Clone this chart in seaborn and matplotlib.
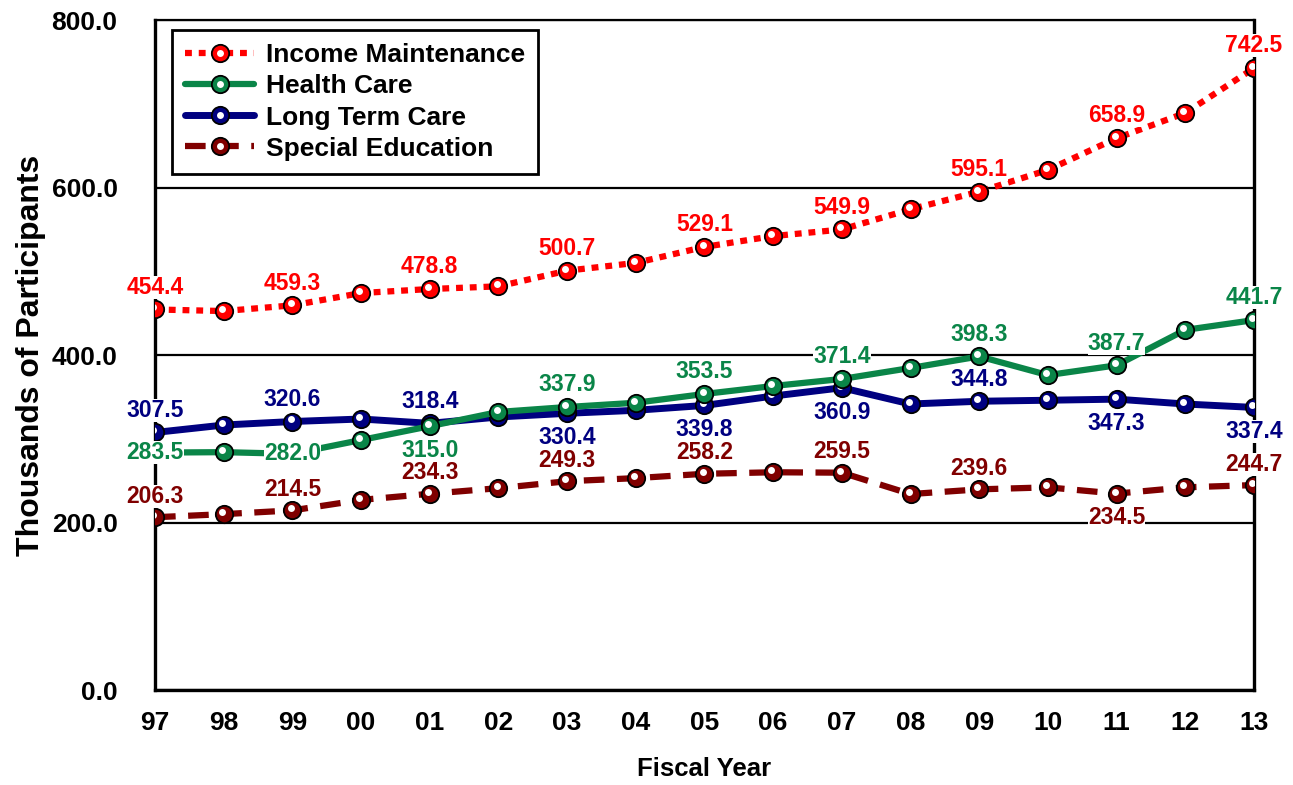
import pandas as pd
import seaborn as sns
import matplotlib.pyplot as plt
from matplotlib.lines import Line2D
from matplotlib.legend_handler import HandlerTuple
from matplotlib.transforms import offset_copy

# data
years = ["97", "98", "99", "00", "01", "02", "03", "04", "05",
         "06", "07", "08", "09", "10", "11", "12", "13"]
income = [454.4, 452.5, 459.3, 474.0, 478.8, 482.0, 500.7, 510.0, 529.1,
          542.0, 549.9, 574.0, 595.1, 621.0, 658.9, 689.0, 742.5]
health = [283.5, 284.0, 282.0, 298.5, 315.0, 332.0, 337.9, 343.0, 353.5,
          363.0, 371.4, 384.5, 398.3, 376.0, 387.7, 430.0, 441.7]
longterm = [307.5, 316.4, 320.6, 323.6, 318.4, 326.0, 330.4, 334.0, 339.8,
            351.0, 360.9, 341.5, 344.8, 346.0, 347.3, 341.5, 337.4]
special = [206.3, 210.0, 214.5, 227.0, 234.3, 241.0, 249.3, 253.0, 258.2,
           260.0, 259.5, 234.0, 239.6, 242.0, 234.5, 242.0, 244.7]

# where the value label goes for each labelled (odd-year) point
pos_income = ["a"] * 9
pos_health = ["c", "c", "b", "a", "a", "a", "a", "a", "a"]
pos_longterm = ["a", "a", "a", "b", "b", "b", "a", "b", "b"]
pos_special = ["a", "a", "a", "a", "a", "a", "a", "b", "a"]

sns.set_style("white")
plt.rcParams["font.family"] = ["Liberation Sans", "DejaVu Sans"]
plt.rcParams["font.weight"] = "bold"
plt.rcParams["text.color"] = "black"
plt.rcParams["axes.labelcolor"] = "black"
plt.rcParams["xtick.labelcolor"] = "black"
plt.rcParams["ytick.labelcolor"] = "black"

fig = plt.figure(figsize=(12.93, 7.85), dpi=100)
ax = fig.add_axes([0.1199, 0.121, 0.8499, 0.8535])

x = list(range(len(years)))
series = [
    ("Special Education", special, "#800000", (0, (3.3, 2.0)), 4.5, pos_special, 15),
    ("Long Term Care", longterm, "#000080", "-", 5.0, pos_longterm, 16),
    ("Health Care", health, "#0A8548", "-", 4.5, pos_health, 16),
    ("Income Maintenance", income, "#FF0000", (0, (1.1, 1.1)), 4.5, pos_income, 16),
]

hl = offset_copy(ax.transData, fig=fig, x=-1.3, y=1.5, units="points")
handles = {}
z = 3
for name, vals, col, ls, lw, pos, up in series:
    df = pd.DataFrame({"x": x, "y": vals})
    sns.lineplot(data=df, x="x", y="y", ax=ax, color=col, linestyle=ls,
                 linewidth=lw, marker="o", markersize=12.5, markerfacecolor=col,
                 markeredgecolor="black", markeredgewidth=1.3,
                 dash_capstyle="butt", zorder=z)
    ax.plot(x, vals, "o", ms=5, color="white", mec="none",
            transform=hl, zorder=z + 0.5)
    for k, p in enumerate(pos):
        i = 2 * k
        dy = {"a": up, "b": -17.5, "c": 0}[p]
        ax.annotate(f"{vals[i]:.1f}", (i, vals[i]), xytext=(0, dy),
                    textcoords="offset points", ha="center", va="center",
                    fontsize=16.5, fontweight="bold", color=col, zorder=20,
                    annotation_clip=False,
                    bbox=dict(boxstyle="square,pad=0.0", fc="white", ec="none"))
    line_h = Line2D([], [], color=col, linestyle=ls, linewidth=lw,
                    marker="o", markersize=12.5, markerfacecolor=col,
                    markeredgecolor="black", markeredgewidth=1.3,
                    dash_capstyle="butt")
    dot_h = Line2D([], [], linestyle="none", marker="o", ms=5,
                   color="white", mec="none")
    handles[name] = (line_h, dot_h)
    z += 1

ax.set_xlim(0, len(years) - 1)
ax.set_ylim(0, 800)
ax.set_xticks(x)
ax.set_xticklabels(years)
ax.set_yticks([0, 200, 400, 600, 800])
ax.set_yticklabels([f"{v:.1f}" for v in [0, 200, 400, 600, 800]])
ax.tick_params(axis="x", direction="in", length=10, width=1, color="gray",
               labelsize=19, pad=15)
ax.tick_params(axis="y", length=0, labelsize=19, pad=27)
for t in ax.get_xticklabels() + ax.get_yticklabels():
    t.set_fontweight("bold")

ax.yaxis.grid(True, color="black", linewidth=1.6)
ax.set_axisbelow(True)
for s in ["left", "right", "bottom"]:
    ax.spines[s].set_linewidth(2.4)
    ax.spines[s].set_color("black")
ax.spines["top"].set_linewidth(1.6)
ax.spines["top"].set_color("black")

ax.set_xlabel("Fiscal Year", fontsize=18.5, fontweight="bold", labelpad=16)
ax.set_ylabel("Thousands of Participants", fontsize=23, fontweight="bold",
              labelpad=4)

order = ["Income Maintenance", "Health Care", "Long Term Care", "Special Education"]
leg = ax.legend([handles[n] for n in order], order,
                handler_map={tuple: HandlerTuple(ndivide=1)},
                loc="upper left", bbox_to_anchor=(0.0155, 0.985),
                borderaxespad=0, frameon=True, fancybox=False,
                edgecolor="black", facecolor="white", framealpha=1,
                prop={"size": 19, "weight": "bold"}, handlelength=2.6,
                handletextpad=0.45, labelspacing=0.27, borderpad=0.5)
leg.get_frame().set_linewidth(2)
leg.set_zorder(30)

fig.savefig("out.png", dpi=100)
